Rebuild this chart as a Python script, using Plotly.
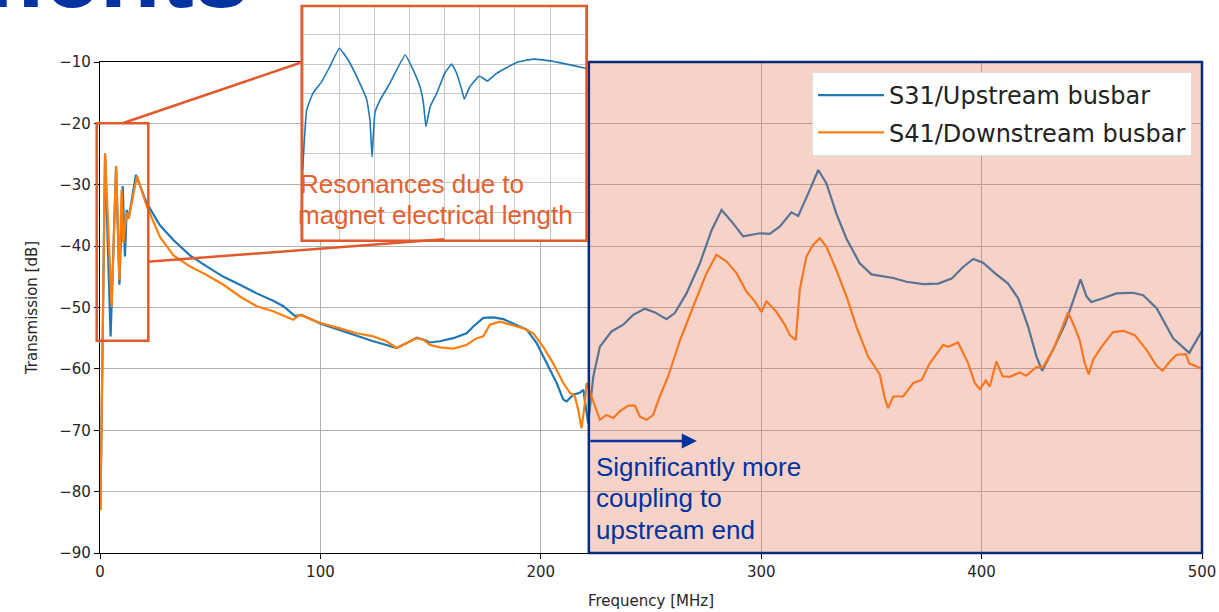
import plotly.graph_objects as go

# ---------------- data ----------------
freq_s31 = [0.2, 2.3, 4.8, 7.3, 8.8, 10.3, 11.3, 12.1, 13.0, 16.3, 21.2, 27.2, 33.3, 40.8, 48.4,
            56.0, 63.5, 71.1, 78.6, 83.2, 88.5, 91.5, 99.8, 108.9, 116.4, 124.0, 130.0, 134.6,
            139.1, 143.6, 147.4, 149.7, 154.2, 160.3, 166.3, 169.4, 173.9, 178.4, 183.0, 189.0,
            193.6, 198.1, 202.6, 207.2, 210.2, 211.7, 214.7, 217.7, 219.3, 220.8, 221.5, 223.8,
            226.8, 232.1, 237.4, 241.9, 247.2, 251.8, 257.0, 260.8, 266.1, 272.2, 277.5, 282.0,
            286.6, 291.8, 299.4, 303.9, 308.5, 313.7, 316.8, 322.1, 325.9, 329.6, 334.1, 338.7,
            344.7, 350.0, 355.3, 359.9, 365.9, 373.5, 380.3, 386.4, 391.6, 396.2, 400.7, 406.0,
            412.0, 416.6, 421.1, 424.9, 427.5, 432.4, 437.8, 441.5, 444.9, 447.6, 449.8, 455.1,
            461.2, 468.7, 473.3, 479.4, 486.9, 494.2, 499.8]
s31_db = [-83.0, -24.9, -54.7, -27.0, -46.3, -30.2, -41.7, -34.1, -35.5, -28.4, -33.0, -36.6, -39.0,
          -41.5, -43.3, -45.0, -46.3, -47.7, -48.9, -49.8, -51.4, -51.2, -52.6, -53.7, -54.7, -55.5,
          -56.1, -56.6, -55.8, -54.9, -55.3, -55.7, -55.5, -55.0, -54.2, -53.1, -51.7, -51.6, -51.9,
          -52.8, -53.6, -55.8, -59.1, -62.3, -65.0, -65.3, -64.2, -63.9, -63.4, -67.8, -68.9, -61.3,
          -56.4, -53.9, -52.8, -51.2, -50.2, -50.8, -51.9, -50.9, -47.7, -42.8, -37.4, -34.1, -36.0,
          -38.4, -37.9, -38.0, -36.8, -34.5, -35.1, -30.8, -27.6, -29.8, -34.7, -38.8, -42.8, -44.6,
          -44.9, -45.2, -45.8, -46.2, -46.1, -45.3, -43.4, -42.1, -42.7, -44.4, -46.1, -48.5, -53.1,
          -58.0, -60.3, -56.9, -52.8, -49.0, -45.4, -48.2, -49.1, -48.5, -47.7, -47.6, -48.0, -50.1,
          -55.0, -57.4, -53.9]

freq_s41 = [0.2, 2.3, 5.3, 7.3, 8.8, 9.8, 10.6, 12.0, 13.0, 16.8, 21.2, 27.2, 33.3, 40.8, 48.4,
            56.0, 63.5, 71.1, 78.6, 84.7, 87.7, 90.7, 99.8, 108.9, 116.4, 124.0, 130.0, 134.6,
            139.1, 143.6, 147.0, 149.7, 154.2, 160.3, 166.3, 170.9, 173.9, 176.9, 181.5, 186.0,
            192.0, 196.6, 201.1, 205.6, 210.2, 213.2, 215.5, 217.0, 218.5, 220.0, 220.8, 226.8,
            229.8, 232.9, 235.9, 239.7, 242.7, 245.0, 248.0, 251.0, 254.0, 257.8, 263.2, 269.2,
            275.2, 279.7, 284.3, 288.8, 293.3, 297.1, 300.1, 302.4, 306.9, 310.7, 313.0, 315.7,
            317.5, 320.5, 323.5, 326.6, 329.6, 334.1, 338.7, 343.2, 348.5, 353.8, 356.1, 357.6,
            359.9, 364.4, 369.0, 372.8, 376.5, 382.6, 384.8, 389.3, 393.9, 396.9, 399.2, 401.9,
            403.7, 406.7, 409.5, 412.8, 417.3, 420.3, 424.9, 427.9, 432.4, 436.2, 439.2, 441.5,
            444.5, 446.8, 448.6, 450.6, 454.4, 459.6, 464.2, 469.5, 474.8, 479.4, 482.1, 485.4,
            488.5, 492.7, 494.2, 499.4]
s41_db = [-83.0, -24.9, -49.9, -27.0, -45.5, -30.8, -39.5, -34.5, -35.5, -28.6, -33.5, -38.5, -41.5,
          -43.3, -44.7, -46.3, -48.2, -49.8, -50.6, -51.5, -52.0, -51.2, -52.5, -53.4, -54.2, -54.7,
          -55.5, -56.6, -55.8, -55.0, -55.3, -56.1, -56.5, -56.7, -56.1, -55.0, -54.7, -52.8, -52.3,
          -52.8, -53.4, -54.2, -56.4, -59.1, -62.3, -63.9, -64.5, -66.7, -69.7, -65.6, -62.3, -68.3,
          -67.5, -68.0, -66.9, -66.0, -66.0, -67.8, -68.3, -67.5, -64.5, -61.2, -55.3, -49.8, -44.4,
          -41.4, -42.5, -44.4, -47.4, -49.0, -50.7, -49.0, -50.7, -52.8, -54.5, -55.3, -47.1, -41.7,
          -39.8, -38.7, -40.1, -43.9, -48.2, -53.1, -58.0, -60.9, -64.8, -66.4, -64.5, -64.5, -62.3,
          -61.8, -59.1, -56.1, -56.4, -55.7, -59.1, -62.3, -63.3, -61.9, -62.9, -58.8, -61.2, -61.3,
          -60.6, -61.1, -59.7, -59.7, -56.9, -53.6, -50.8, -52.6, -55.3, -59.1, -60.9, -58.5, -56.4,
          -54.0, -53.8, -54.5, -56.9, -59.5, -60.3, -58.8, -57.7, -57.6, -59.1, -59.9]

# inset (zoom of the resonances, arbitrary grid units)
inset_x = [-0.04, 0.08, 0.26, 0.51, 0.74, 1.01, 1.26, 1.55, 1.79, 1.88, 1.94, 2.02, 2.17, 2.45,
           2.88, 3.11, 3.30, 3.40, 3.47, 3.59, 3.78, 4.01, 4.20, 4.34, 4.49, 4.56, 4.72, 4.99,
           5.22, 5.48, 6.05, 6.52, 6.99, 7.94, 8.05]
inset_y = [-4.75, -2.54, -1.97, -1.58, -1.07, -0.45, -0.85, -1.53, -2.20, -2.88, -4.13, -2.64,
           -2.20, -1.63, -0.68, -1.19, -1.75, -2.31, -3.11, -2.43, -1.97, -1.29, -0.99, -1.29,
           -1.86, -2.17, -1.75, -1.39, -1.56, -1.30, -0.93, -0.82, -0.88, -1.11, -1.14]

series_names = ["S31/Upstream busbar", "S41/Downstream busbar"]
x_ticks = [0, 100, 200, 300, 400, 500]
y_ticks = [-90, -80, -70, -60, -50, -40, -30, -20, -10]
highlight_start = 221.8   # MHz, start of shaded region
arrow_end = 270.8         # MHz
arrow_level = -71.75      # dB

# ---------------- styling ----------------
BLUE = "#1f77b4"
ORANGE = "#ff7f0e"
ACCENT = "#E05A2B"
NAVY = "#0033A0"
FONT = "DejaVu Sans"

W, H = 1219, 612
ML, MR, MT, MB = 100, 17, 0, 59
PW, PH = W - ML - MR, H - MT - MB
main_top = 62  # pixel row of top of main axes


def px(xp):
    return (xp - ML) / PW


def py(yp):
    return (PH - yp) / PH


fig = go.Figure()
fig.add_trace(go.Scatter(x=freq_s31, y=s31_db, mode="lines", name=series_names[0],
                         line=dict(color=BLUE, width=2.2), legendgroup="a"))
fig.add_trace(go.Scatter(x=freq_s41, y=s41_db, mode="lines", name=series_names[1],
                         line=dict(color=ORANGE, width=2.2), legendgroup="b"))
fig.add_trace(go.Scatter(x=inset_x, y=inset_y, mode="lines", showlegend=False,
                         line=dict(color=BLUE, width=1.6, shape="spline", smoothing=0.3),
                         xaxis="x2", yaxis="y2"))

inset_box = [px(301.7), px(586.7), py(240.7), py(6)]

axis_font = dict(family=FONT, size=15, color="#262626")
fig.update_layout(
    width=W, height=H,
    margin=dict(l=ML, r=MR, t=MT, b=MB, autoexpand=False),
    paper_bgcolor="white", plot_bgcolor="white",
    showlegend=True,
    legend=dict(x=px(812), y=py(72), xanchor="left", yanchor="top",
                bgcolor="white", bordercolor="#dddddd", borderwidth=1,
                font=dict(family=FONT, size=24, color="#222222"),
                tracegroupgap=3, itemwidth=66),
    xaxis=dict(domain=[0, 1], range=[0, 500], tickvals=x_ticks, showgrid=True,
               gridcolor="#b0b0b0", gridwidth=1, zeroline=False,
               showline=True, linecolor="black", linewidth=1.2, mirror=True,
               ticks="outside", ticklen=5, tickcolor="black", tickfont=axis_font,
               title=dict(text="Frequency [MHz]", font=axis_font, standoff=15)),
    yaxis=dict(domain=[0, py(main_top)], range=[-90, -10], tickvals=y_ticks, showgrid=True,
               gridcolor="#b0b0b0", gridwidth=1, zeroline=False,
               showline=True, linecolor="black", linewidth=1.2, mirror=True,
               ticks="outside", ticklen=5, tickcolor="black", tickfont=axis_font,
               title=dict(text="Transmission [dB]", font=axis_font, standoff=17)),
    xaxis2=dict(domain=inset_box[:2], anchor="y2", range=[-0.06, 8.04], dtick=1, tick0=0,
                showticklabels=False, ticks="", showgrid=True, gridcolor="#c8c8c8",
                zeroline=False, showline=True, linecolor="#999999", mirror=True),
    yaxis2=dict(domain=inset_box[2:], anchor="x2", range=[-6.97, 0.98], dtick=1, tick0=0,
                showticklabels=False, ticks="", showgrid=True, gridcolor="#c8c8c8",
                zeroline=False, showline=True, linecolor="#999999", mirror=True),
)

shapes = [
    # white background for the inset (inside the inset subplot, below its grid)
    dict(type="rect", xref="x2", yref="y2", x0=-1, x1=9, y0=-8, y1=2,
         fillcolor="white", line=dict(width=0), layer="below"),
    # shaded high-frequency region
    dict(type="rect", xref="paper", yref="paper",
         x0=px(ML + highlight_start * PW / 500), x1=1.0, y0=0, y1=py(main_top),
         fillcolor="rgba(225,105,75,0.30)", line=dict(color="#0A2A7A", width=2.5),
         layer="above"),
    # small rectangle around resonances
    dict(type="rect", xref="paper", yref="paper", x0=px(96.7), x1=px(148.3),
         y0=py(340.7), y1=py(123.3), line=dict(color=ACCENT, width=2.5), layer="above"),
    # inset border
    dict(type="rect", xref="paper", yref="paper", x0=inset_box[0], x1=inset_box[1],
         y0=inset_box[2], y1=inset_box[3], line=dict(color=ACCENT, width=2.5), layer="above"),
    # connector lines
    dict(type="line", xref="paper", yref="paper", x0=px(122.5), y0=py(123.3),
         x1=px(300.4), y1=py(62.7), line=dict(color=ACCENT, width=2.5), layer="above"),
    dict(type="line", xref="paper", yref="paper", x0=px(147.3), y0=py(261.7),
         x1=px(444), y1=py(239.3), line=dict(color=ACCENT, width=2.5), layer="above"),
]
fig.update_layout(shapes=shapes)

txt_font = "Liberation Sans"
annotations = [
    dict(text="Resonances due to", xref="paper", yref="paper", x=px(298), y=py(184),
         xanchor="left", yanchor="middle", showarrow=False,
         font=dict(family=txt_font, size=26, color="#E3602F")),
    dict(text="magnet electrical length", xref="paper", yref="paper", x=px(296), y=py(215),
         xanchor="left", yanchor="middle", showarrow=False,
         font=dict(family=txt_font, size=26, color="#E3602F")),
    dict(text="Significantly more", xref="paper", yref="paper", x=px(594), y=py(467),
         xanchor="left", yanchor="middle", showarrow=False,
         font=dict(family=txt_font, size=26, color=NAVY)),
    dict(text="coupling to", xref="paper", yref="paper", x=px(594), y=py(498),
         xanchor="left", yanchor="middle", showarrow=False,
         font=dict(family=txt_font, size=26, color=NAVY)),
    dict(text="upstream end", xref="paper", yref="paper", x=px(594), y=py(530),
         xanchor="left", yanchor="middle", showarrow=False,
         font=dict(family=txt_font, size=26, color=NAVY)),
    dict(text="", xref="x", yref="y", x=arrow_end, y=arrow_level,
         axref="x", ayref="y", ax=highlight_start, ay=arrow_level,
         showarrow=True, arrowhead=2, arrowsize=1.2, arrowwidth=2.5, arrowcolor=NAVY),
    dict(text="<b>ments</b>", xref="paper", yref="paper", x=px(252), y=py(30),
         xanchor="right", yanchor="bottom", showarrow=False,
         font=dict(family=txt_font, size=100, color=NAVY)),
]
fig.update_layout(annotations=annotations)

fig.write_html("out.html", config={"displayModeBar": False},
               post_script="document.body.style.margin='0';document.body.style.overflow='hidden';")
